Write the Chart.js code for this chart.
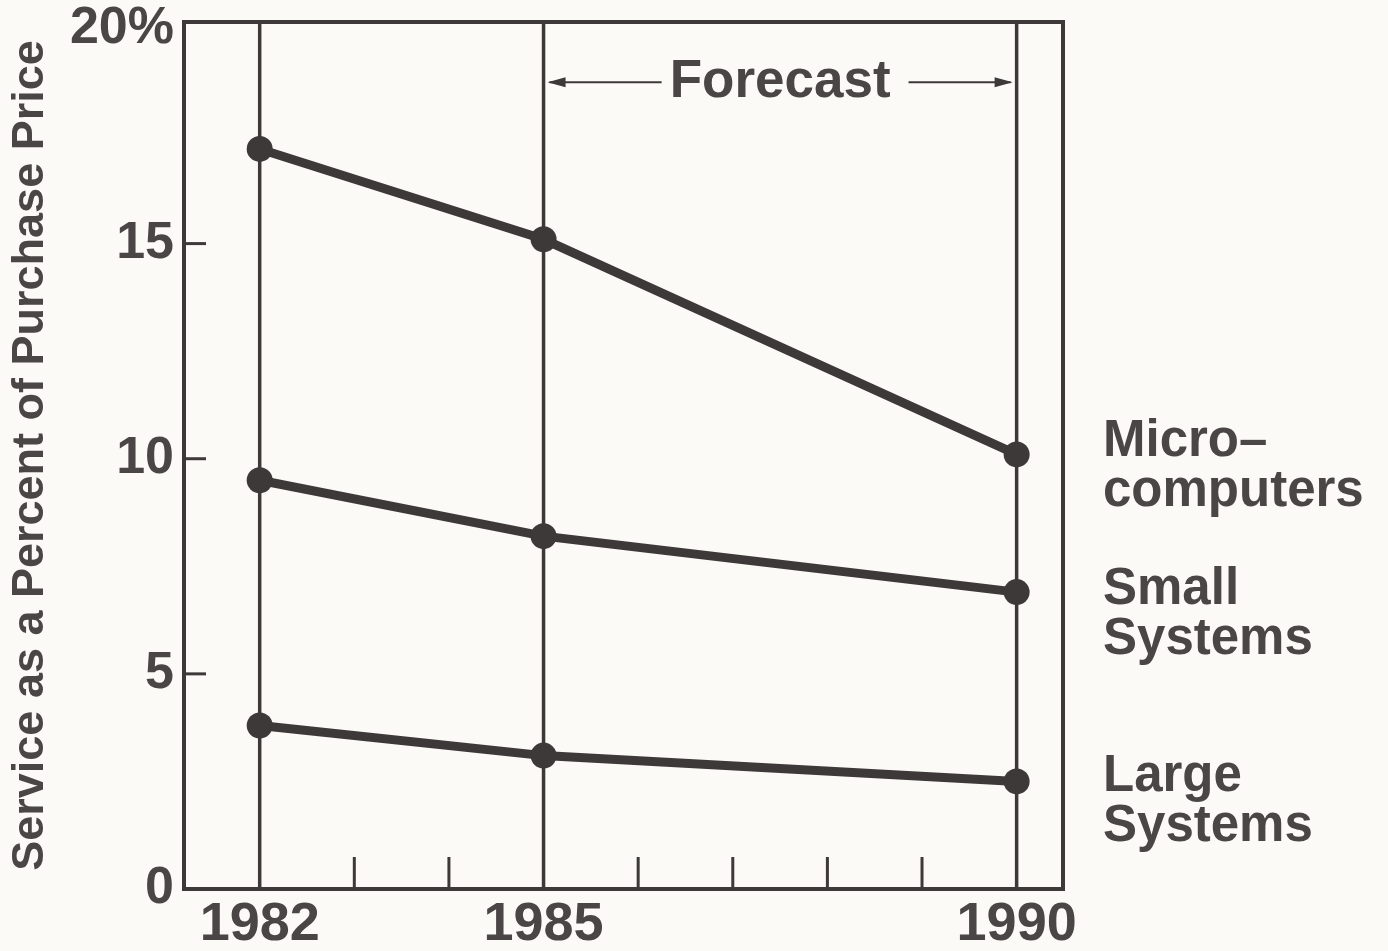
<!DOCTYPE html>
<html>
<head>
<meta charset="utf-8">
<script src="https://cdn.jsdelivr.net/npm/chart.js@4.4.1/dist/chart.umd.min.js"></script>
<style>
  html, body { margin: 0; padding: 0; background: #fbfaf6; }
  #wrap { width: 1388px; height: 951px; position: relative; }
</style>
</head>
<body>
<div id="wrap"><canvas id="c" width="1388" height="951"></canvas></div>
<script>
// ---- data ----
const years = [1982, 1985, 1990];
const microcomputers = [17.2, 15.1, 10.1];
const smallSystems = [9.5, 8.2, 6.9];
const largeSystems = [3.8, 3.1, 2.5];
const seriesNames = [["Micro\u2013", "computers"], ["Small", "Systems"], ["Large", "Systems"]];
const yTickValues = [0, 5, 10, 15, 20];
const xTickValues = [1982, 1985, 1990];
const minorYears = [1983, 1984, 1986, 1987, 1988, 1989];
const forecastStart = 1985;
const forecastEnd = 1990;
const forecastLabel = "Forecast";
const yTitle = "Service as a Percent of Purchase Price";

const INK = '#3d3939';
const TEXT = '#4a4646';
const FONT = "'Liberation Sans', Arial, sans-serif";

const toPts = arr => arr.map((v, i) => ({ x: years[i], y: v }));

const decor = {
  id: 'decor',
  beforeDatasetsDraw(chart, args, opts) {
    const { ctx, chartArea: a, scales: { x, y } } = chart;
    ctx.save();
    ctx.strokeStyle = INK;
    ctx.lineCap = 'butt';
    // vertical year lines
    ctx.lineWidth = 3.5;
    xTickValues.forEach(v => {
      const px = x.getPixelForValue(v);
      ctx.beginPath(); ctx.moveTo(px, a.top); ctx.lineTo(px, a.bottom); ctx.stroke();
    });
    // minor ticks
    ctx.lineWidth = 3;
    minorYears.forEach(v => {
      const px = x.getPixelForValue(v);
      ctx.beginPath(); ctx.moveTo(px, a.bottom); ctx.lineTo(px, a.bottom - 32); ctx.stroke();
    });
    // y inward ticks
    yTickValues.filter(v => v > 0 && v < 20).forEach(v => {
      const py = y.getPixelForValue(v);
      ctx.beginPath(); ctx.moveTo(a.left, py); ctx.lineTo(a.left + 22, py); ctx.stroke();
    });
    // frame
    ctx.lineWidth = 4;
    ctx.strokeRect(a.left, a.top, a.right - a.left, a.bottom - a.top);

    // forecast annotation
    const fy = y.getPixelForValue(opts.forecastY);
    const x1 = x.getPixelForValue(forecastStart);
    const x2 = x.getPixelForValue(forecastEnd);
    const cx = (x1 + x2) / 2;
    ctx.font = `bold 53px ${FONT}`;
    ctx.fillStyle = TEXT;
    ctx.textAlign = 'center';
    ctx.textBaseline = 'middle';
    ctx.fillText(forecastLabel, cx, fy);
    const half = ctx.measureText(forecastLabel).width / 2;
    ctx.lineWidth = 2;
    ctx.fillStyle = INK;
    // left arrow
    ctx.beginPath(); ctx.moveTo(x1 + 6, fy); ctx.lineTo(cx - half - 8, fy); ctx.stroke();
    ctx.beginPath(); ctx.moveTo(x1 + 4, fy); ctx.lineTo(x1 + 22, fy - 5); ctx.lineTo(x1 + 22, fy + 5); ctx.closePath(); ctx.fill();
    // right arrow
    ctx.beginPath(); ctx.moveTo(cx + half + 18, fy); ctx.lineTo(x2 - 6, fy); ctx.stroke();
    ctx.beginPath(); ctx.moveTo(x2 - 4, fy); ctx.lineTo(x2 - 22, fy - 5); ctx.lineTo(x2 - 22, fy + 5); ctx.closePath(); ctx.fill();

    // series labels at right
    ctx.font = `bold 51px ${FONT}`;
    ctx.fillStyle = TEXT;
    ctx.textAlign = 'left';
    ctx.textBaseline = 'middle';
    opts.labelY.forEach((val, i) => {
      const py = y.getPixelForValue(val);
      seriesNames[i].forEach((line, j) => ctx.fillText(line, a.right + 40, py + j * 50));
    });
    ctx.restore();
  }
};

const ds = (data) => ({
  data: toPts(data),
  borderColor: INK,
  backgroundColor: INK,
  borderWidth: 9,
  pointRadius: 13,
  pointHoverRadius: 13,
  pointBackgroundColor: INK,
  pointBorderWidth: 0,
  tension: 0
});

new Chart(document.getElementById('c'), {
  type: 'line',
  data: { datasets: [ds(microcomputers), ds(smallSystems), ds(largeSystems)] },
  options: {
    responsive: false,
    animation: false,
    events: [],
    layout: { padding: { top: 22, right: 325, left: 0, bottom: 0 } },
    plugins: {
      legend: { display: false },
      tooltip: { enabled: false },
      decor: { forecastY: 18.75, labelY: [10.4, 6.95, 2.6] }
    },
    scales: {
      x: {
        type: 'linear',
        min: 1981.2,
        max: 1990.49,
        afterBuildTicks: s => { s.ticks = xTickValues.map(v => ({ value: v })); },
        afterFit: s => { s.height = 62; },
        grid: { display: false, drawTicks: false },
        border: { display: false },
        ticks: {
          callback: v => String(v),
          color: TEXT,
          font: { family: FONT, size: 54, weight: 'bold' },
          padding: 4,
          maxRotation: 0,
          autoSkip: false
        }
      },
      y: {
        min: 0,
        max: 20.15,
        afterBuildTicks: s => { s.ticks = yTickValues.map(v => ({ value: v })); },
        afterFit: s => { s.width = 184; s.paddingTop = 0; },
        grid: { display: false, drawTicks: false },
        border: { display: false },
        title: {
          display: true,
          text: yTitle,
          color: TEXT,
          font: { family: FONT, size: 45, weight: 'bold' },
          padding: { top: 4, bottom: 0 }
        },
        ticks: {
          callback: v => v === 20 ? '20%' : String(v),
          color: TEXT,
          font: { family: FONT, size: 52, weight: 'bold', lineHeight: 0.5 },
          padding: 10
        }
      }
    }
  },
  plugins: [decor]
});
</script>
</body>
</html>
